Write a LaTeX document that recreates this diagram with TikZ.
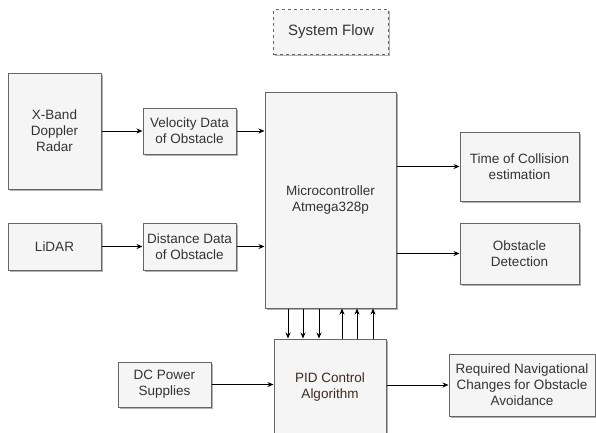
\documentclass[tikz,border=0pt]{standalone}
\usepackage{fontspec}
\setmainfont{Liberation Sans}
\usetikzlibrary{shadows,arrows.meta}
\definecolor{boxfill}{HTML}{F5F5F5}
\definecolor{boxline}{HTML}{666666}
\definecolor{txt}{HTML}{333333}
\definecolor{pidtxt}{HTML}{3D2A22}
\tikzset{
  blk/.style={draw=boxline, fill=boxfill, line width=1pt, align=center, text=txt,
    font=\fontsize{13.5}{16}\selectfont, inner sep=1pt,
    drop shadow={shadow xshift=1.5pt, shadow yshift=-1.5pt, fill=black, opacity=0.3}},
  arr/.style={draw=black, line width=1pt, -{Stealth[length=6pt,width=5pt]}}
}
\begin{document}
\begin{tikzpicture}[x=1pt,y=-1pt]
\useasboundingbox (0,0) rectangle (596,432);
\node[blk, dashed, minimum width=115pt, minimum height=45pt, font=\fontsize{15}{18}\selectfont] (title) at (331,32) {System Flow};
\node[blk, minimum width=93pt, minimum height=116pt] (xband) at (54.5,131) {X-Band\\Doppler\\Radar};
\node[blk, minimum width=93pt, minimum height=46pt] (vel) at (189.5,131) {Velocity Data\\of Obstacle};
\node[blk, minimum width=93pt, minimum height=47pt] (lidar) at (54.5,246.5) {LiDAR};
\node[blk, minimum width=93pt, minimum height=47pt] (dist) at (189.5,246.5) {Distance Data\\of Obstacle};
\node[blk, minimum width=131pt, minimum height=216pt] (micro) at (330.5,200) {Microcontroller\\Atmega328p};
\node[blk, minimum width=119pt, minimum height=69pt] (toc) at (519.5,166.5) {Time of Collision\\estimation};
\node[blk, minimum width=119pt, minimum height=61pt] (obs) at (519.5,253.5) {Obstacle\\Detection};
\node[blk, minimum width=112pt, minimum height=95pt, text=pidtxt] (pid) at (330,386.5) {PID Control\\Algorithm};
\node[blk, minimum width=146pt, minimum height=62pt] (req) at (522,385) {Required Navigational\\Changes for Obstacle\\Avoidance};
\node[blk, minimum width=93pt, minimum height=45pt] (dc) at (164.5,384.5) {DC Power\\Supplies};

\draw[arr] (xband.east |- vel) -- (vel.west);
\draw[arr] (vel.east) -- (micro.west |- vel);
\draw[arr] (lidar.east) -- (dist.west);
\draw[arr] (dist.east) -- (micro.west |- dist);
\draw[arr] (micro.east |- toc) -- (toc.west);
\draw[arr] (micro.east |- obs) -- (obs.west);
\draw[arr] (dc.east) -- (pid.west |- dc);
\draw[arr] (pid.east |- req) -- (req.west);
\foreach \x in {288,303,319} \draw[arr] (\x,0 |- micro.south) -- (\x,0 |- pid.north);
\foreach \x in {342,357,373} \draw[arr] (\x,0 |- pid.north) -- (\x,0 |- micro.south);
\end{tikzpicture}
\end{document}
